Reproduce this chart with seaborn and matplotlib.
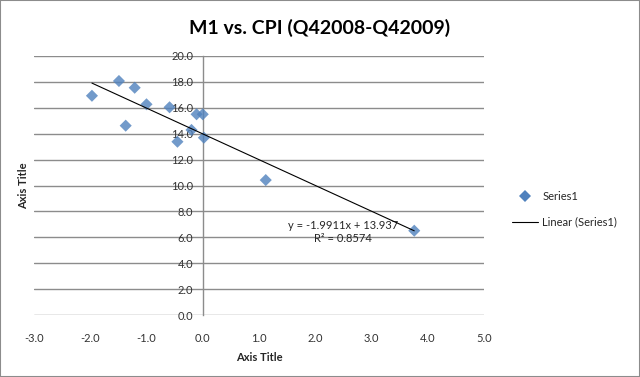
import matplotlib
matplotlib.use("Agg")
import matplotlib.pyplot as plt
import seaborn as sns
from matplotlib.lines import Line2D
from matplotlib.patches import Rectangle

# Style first, fonts after (set_style resets font.family)
sns.set_style("white")
plt.rcParams['font.family'] = ['Lato', 'DejaVu Sans']

# Data (M1 change vs. CPI change)
m1_change = [-1.97, -1.49, -1.21, -1.37, -1.00, -0.59, -0.45, -0.20, -0.11, 0.00, 0.02, 1.12, 3.76]
cpi_value = [16.93, 18.07, 17.55, 14.62, 16.27, 16.04, 13.38, 14.29, 15.50, 15.50, 13.69, 10.42, 6.51]

x_ticks = [-3.0, -2.0, -1.0, 0.0, 1.0, 2.0, 3.0, 4.0, 5.0]
y_ticks = [0.0, 2.0, 4.0, 6.0, 8.0, 10.0, 12.0, 14.0, 16.0, 18.0, 20.0]

title = "M1 vs. CPI (Q42008-Q42009)"
trend_text = "y = -1.9911x + 13.937\nR\u00b2 = 0.8574"
series_names = ["Series1", "Linear (Series1)"]

marker_color = "#4F81BD"

fig = plt.figure(figsize=(6.4, 3.77), dpi=100)
ax = fig.add_axes([34 / 640, 62 / 377, 450 / 640, 259 / 377])

sns.regplot(x=m1_change, y=cpi_value, ax=ax, ci=None, marker="D",
            scatter_kws=dict(s=38, color=marker_color, edgecolor="none", zorder=3),
            line_kws=dict(color="black", lw=0.8, zorder=4))

ax.set_xlim(-3, 5)
ax.set_ylim(0, 20)
ax.set_xticks(x_ticks)
ax.set_yticks(y_ticks)
ax.set_xticklabels([f"{v:.1f}" for v in x_ticks])
ax.set_yticklabels([f"{v:.1f}" for v in y_ticks])

# horizontal gridlines only, vertical axis crossing at x = 0
ax.yaxis.grid(True, color="#8c8c8c", lw=1)
ax.xaxis.grid(False)
ax.set_axisbelow(True)
for side in ["top", "right", "bottom"]:
    ax.spines[side].set_visible(False)
ax.spines["left"].set_position(("data", 0))
ax.spines["left"].set_color("#8c8c8c")
ax.spines["left"].set_linewidth(1)
ax.tick_params(axis="both", length=0, labelsize=8, colors="#333333")
ax.tick_params(axis="y", pad=7)
ax.tick_params(axis="x", pad=13)

ax.set_xlabel("Axis Title", fontsize=8, fontweight="bold", color="#262626")
ax.set_ylabel("Axis Title", fontsize=8, fontweight="bold", color="#262626")
ax.yaxis.set_label_coords(-0.01, 0.5)
ax.xaxis.labelpad = 6

ax.text(2.49, 6.4, trend_text, ha="center", va="center", fontsize=8,
        color="#262626", linespacing=1.25)

fig.text(0.5, 0.925, title, ha="center", va="center", fontsize=14,
         fontweight="bold", color="black")

handles = [Line2D([], [], marker="D", ls="none", color=marker_color, markersize=6, markeredgewidth=0),
           Line2D([], [], color="black", lw=0.8)]
fig.legend(handles, series_names, loc="center left", bbox_to_anchor=(0.785, 0.445),
           frameon=False, fontsize=8, handlelength=2.3, labelspacing=1.3, handletextpad=0.4)

fig.patches.append(Rectangle((0, 0), 1, 1, transform=fig.transFigure, fill=False,
                             edgecolor="#8c8c8c", lw=1.5))

fig.savefig("out.png", dpi=100)
